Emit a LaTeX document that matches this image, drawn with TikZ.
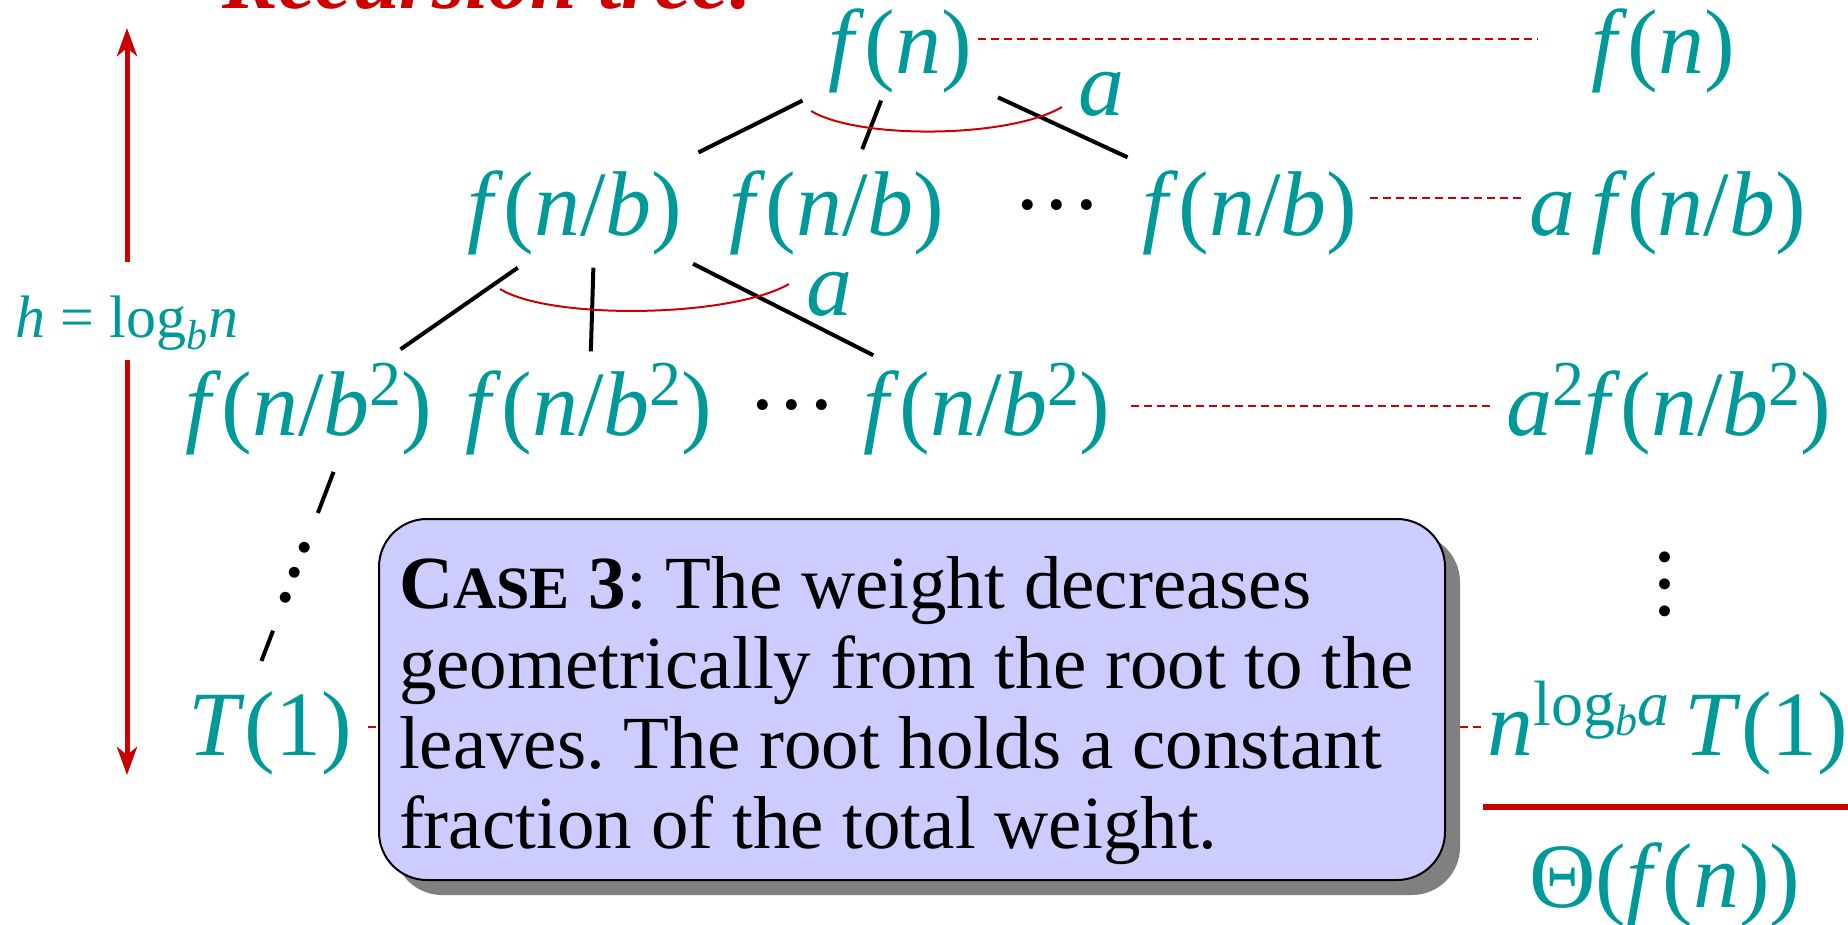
\documentclass[tikz,border=0pt]{standalone}
\usepackage{fontspec}
\setmainfont{Liberation Serif}
\usetikzlibrary{arrows.meta,calc,shadows}
\definecolor{slteal}{HTML}{009999}
\definecolor{slred}{HTML}{CC0000}
\colorlet{casefill}{blue!20}
\newcommand{\tallvdots}{\vbox{\baselineskip=13.5pt \lineskiplimit=0pt \hbox{.}\hbox{.}\hbox{.}}}
\newcommand{\hisup}[1]{\raisebox{15pt}{\fontsize{32}{32}\selectfont #1}}
\newcommand{\losub}[1]{\raisebox{-5pt}{\fontsize{22}{22}\selectfont #1}}
\newcommand{\rowdots}{·\kern-0.5pt·\kern-0.5pt·}
\tikzset{
  termnode/.style={text=slteal, font=\fontsize{46}{50}\selectfont, inner xsep=3pt, inner ysep=0pt, text height=32pt, text depth=10pt},
  dotsnode/.style={text=black, font=\fontsize{46}{50}\selectfont, inner sep=0pt, text height=32pt, text depth=10pt},
  treeedge/.style={line width=2pt, black},
  fanarc/.style={line width=1pt, slred},
  levelline/.style={line width=1pt, slred, dash pattern=on 4pt off 2.5pt},
  heightarrow/.style={line width=2.5pt, slred, -{Stealth[length=14pt, width=10pt, inset=4pt]}},
  hlabel/.style={text=slteal, font=\fontsize{30}{34}\selectfont, inner xsep=0pt, inner ysep=10.5pt, text height=27pt, text depth=1pt},
  sumrule/.style={line width=3pt, slred},
  casebox/.style={draw=black, line width=1pt, fill=casefill, rounded corners=24pt,
    drop shadow={shadow xshift=7.5pt, shadow yshift=-7.5pt, fill=black!50, opacity=1},
    font=\fontsize{37.5}{40}\selectfont, align=left, text width=513pt,
    inner xsep=10pt, inner ysep=13pt, text height=31.5pt, text depth=123pt},
}

\begin{document}
\begin{tikzpicture}[x=0.5pt,y=-0.5pt]
\useasboundingbox (0,0) rectangle (1848,925);
\node[anchor=base west, inner sep=0pt, text=slred, font=\fontsize{42}{48}\selectfont\bfseries\itshape] (title) at (222,9) {Recursion tree:};
\node[termnode] (root) at (900,52) {\textit{f}(\textit{n})};
\node[termnode] (c1) at (575,214) {\textit{f}(\textit{n}/\textit{b})};
\node[termnode] (c2) at (837,214) {\textit{f}(\textit{n}/\textit{b})};
\node[dotsnode] (cd1) at (1057,214) {\rowdots};
\node[termnode] (c4) at (1250,214) {\textit{f}(\textit{n}/\textit{b})};
\node[termnode] (d1) at (309,413) {\textit{f}(\textit{n}/\textit{b}\hisup{2})};
\node[termnode] (d2) at (589,413) {\textit{f}(\textit{n}/\textit{b}\hisup{2})};
\node[dotsnode] (cd2) at (792,413) {\rowdots};
\node[termnode] (d4) at (987,413) {\textit{f}(\textit{n}/\textit{b}\hisup{2})};
\node[termnode] (leaf) at (270,733) {\textit{T}(1)};
\node[termnode] (a1) at (1101,94) {\textit{a}};
\node[termnode] (a2) at (829,293) {\textit{a}};
\node[termnode] (r1) at (1663,52) {\textit{f}(\textit{n})};
\node[termnode] (r2) at (1668,214) {\textit{a\,f}(\textit{n}/\textit{b})};
\node[termnode] (r3) at (1669,413) {\textit{a}\hisup{2}\textit{f}(\textit{n}/\textit{b}\hisup{2})};
\node[dotsnode, text height=, text depth=] (rdots) at (1665,584) {\tallvdots};
\node[termnode] (r4) at (1668,733) {\textit{n}\hisup{log\losub{\textit{b}}\textit{a}}\,\textit{T}(1)};
\node[termnode] (r5) at (1665,885) {Θ(\textit{f}(\textit{n}))};
\coordinate (c1b) at ($(c1)+(20,0)$);
\coordinate (d1b) at ($(d1)+(47,0)$);
\coordinate (leafb) at ($(leaf)+(-36,0)$);
\draw[treeedge] ($(root)!0.3!(c1)$) -- ($(root)!0.62!(c1)$);
\draw[treeedge] ($(root)!0.3!(c2)$) -- ($(root)!0.6!(c2)$);
\draw[treeedge] ($(root)!0.28!(c4)$) -- ($(root)!0.65!(c4)$);
\draw[fanarc] (811,111) .. controls (860,140) and (1010,138) .. (1062,107);
\draw[treeedge] ($(c1b)!0.27!(d1)$) -- ($(c1b)!0.68!(d1)$);
\draw[treeedge] ($(c1b)!0.27!(d2)$) -- ($(c1b)!0.69!(d2)$);
\draw[treeedge] ($(c1b)!0.25!(d4)$) -- ($(c1b)!0.71!(d4)$);
\draw[fanarc] (500,289) .. controls (550,320) and (730,318) .. (789,284);
\draw[treeedge] ($(d1b)!0.184!(leafb)$) -- ($(d1b)!0.3125!(leafb)$);
\draw[treeedge] ($(d1b)!0.68!(leafb)$) -- ($(d1b)!0.775!(leafb)$);
\node[dotsnode, rotate=-21, text height=, text depth=] (ldots) at ($(d1b)!0.5!(leafb)$) {\tallvdots};
\draw[levelline] ($(root.east)+(0,-13)$) -- ($(r1.west)+(-47,-13)$);
\draw[levelline] ($(c4.east)+(6,-16)$) -- ($(r2.west)+(0,-16)$);
\draw[levelline] ($(d4.east)+(14,-7)$) -- ($(r3.west)+(-8,-7)$);
\draw[levelline] ($(leaf.east)+(10,-6)$) -- ($(r4.west)+(0,-6)$);
\coordinate (htop) at (127,28);
\coordinate (hbot) at (127,775);
\node[hlabel] (hlab) at (127,311) {\textit{h} = log\textsubscript{\textit{b}}\textit{n}};
\draw[heightarrow] (hlab.north) -- (htop);
\draw[heightarrow] (hlab.south) -- (hbot);
\draw[sumrule] (1483,807) -- (1850,807);
\node[casebox, anchor=north west] (case) at (378,518) {\spaceskip=0pt \xspaceskip=0pt \frenchspacing \textbf{C{\fontsize{30}{40}\selectfont ASE} 3}: The weight decreases\\ geometrically from the root to the\\ leaves. The root holds a constant\\ fraction of the total weight.};
\end{tikzpicture}
\end{document}
